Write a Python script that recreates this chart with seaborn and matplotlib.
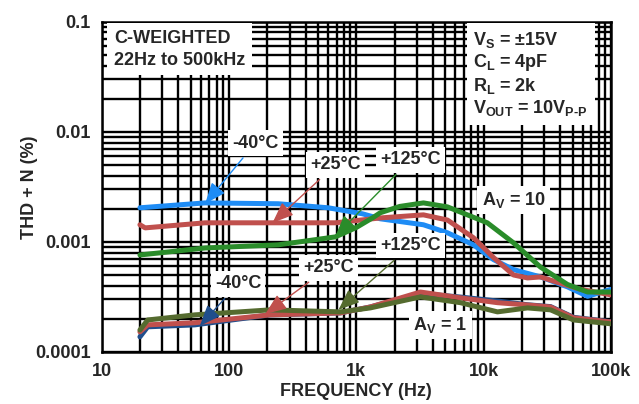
import numpy as np
import pandas as pd
import matplotlib
matplotlib.use("Agg")
import matplotlib.pyplot as plt
import seaborn as sb

# --------------- THD+N vs frequency --------------- #
# values

# Av = 10
f_m40_10 = [20, 65, 244, 604, 1117, 1546, 3370, 5200, 8330, 11970, 17180, 28000, 45600, 65600, 100000]
thd_m40_10 = [0.00204, 0.00226, 0.00222, 0.00204, 0.0018, 0.00162, 0.00143, 0.00121, 0.00094,
              0.00069, 0.00056, 0.00048, 0.00039, 0.00032, 0.00037]

f_p25_10 = [20, 22, 65, 244, 686, 1546, 3370, 5200, 8330, 11970, 17180, 22130, 28000, 40200, 57800, 100000]
thd_p25_10 = [0.00143, 0.00134, 0.00149, 0.00149, 0.00149, 0.00165, 0.00176, 0.00158, 0.00109,
              0.00072, 0.0005, 0.00047, 0.00048, 0.00042, 0.00037, 0.00033]

f_p125_10 = [20, 65, 244, 686, 1000, 1340, 1546, 2200, 3370, 5200, 10700, 17180, 28000, 45600, 65600, 100000]
thd_p125_10 = [0.00076, 0.00088, 0.00094, 0.00111, 0.00135, 0.00165, 0.00184, 0.0021, 0.00226,
               0.00208, 0.00149, 0.00098, 0.00059, 0.00041, 0.00035, 0.00035]

# Av = 1
f_av1 = [20, 23, 54, 211, 750, 1290, 3190, 6580, 12860, 22130, 33600, 50900, 100000]
thd_m40_1 = [0.000137, 0.000169, 0.000176, 0.000217, 0.000226, 0.000256, 0.00034, 0.000315,
             0.00029, 0.000268, 0.000258, 0.000206, 0.000188]
thd_p25_1 = [0.000152, 0.000176, 0.000184, 0.000217, 0.000226, 0.000256, 0.00035, 0.00031,
             0.00028, 0.000267, 0.000256, 0.000204, 0.000187]
thd_p125_1 = [0.000158, 0.000195, 0.000217, 0.000241, 0.000231, 0.000251, 0.000316, 0.00028,
              0.000231, 0.000251, 0.000241, 0.000195, 0.00018]

x_ticks = [10, 100, 1000, 10000, 100000]
x_labels = ["10", "100", "1k", "10k", "100k"]
y_ticks = [0.0001, 0.001, 0.01, 0.1]
y_labels = ["0.0001", "0.001", "0.01", "0.1"]

c_blue, c_red, c_green = "#1e8cf5", "#c0504d", "#2a8c2a"
c_dblue, c_olive = "#1f4e8c", "#556b2f"

sb.set_style("white")
plt.rcParams["font.family"] = ["Liberation Sans", "DejaVu Sans"]
plt.rcParams["font.weight"] = "bold"
plt.rcParams["mathtext.fontset"] = "custom"
plt.rcParams["mathtext.bf"] = "Liberation Sans:bold"
plt.rcParams["mathtext.rm"] = "Liberation Sans:bold"
plt.rcParams["mathtext.default"] = "bf"

fig = plt.figure(figsize=(6.39, 4.04), dpi=100)
ax = fig.add_axes([0.159, 0.129, 0.797, 0.817])

curves = [
    (f_av1, thd_m40_1, c_dblue),
    (f_av1, thd_p25_1, c_red),
    (f_av1, thd_p125_1, c_olive),
    (f_m40_10, thd_m40_10, c_blue),
    (f_p25_10, thd_p25_10, c_red),
    (f_p125_10, thd_p125_10, c_green),
]
for fx, fy, col in curves:
    df = pd.DataFrame({"f": fx, "thd": fy})
    sb.lineplot(data=df, x="f", y="thd", color=col, lw=3.6, ax=ax, zorder=5,
                sort=False, estimator=None)

ax.set_xscale("log")
ax.set_yscale("log")
ax.set_xlim(10, 100000)
ax.set_ylim(0.0001, 0.1)
ax.set_xticks(x_ticks)
ax.set_xticklabels(x_labels)
ax.set_yticks(y_ticks)
ax.set_yticklabels(y_labels)
ax.tick_params(which="both", length=0, labelsize=13, pad=8)
ax.grid(which="both", color="black", lw=1.7)
ax.set_axisbelow(True)
for s in ax.spines.values():
    s.set_color("black")
    s.set_linewidth(1.8)
ax.set_xlabel("FREQUENCY (Hz)", fontsize=13, fontweight="bold", labelpad=2)
ax.set_ylabel("THD + N (%)", fontsize=13, fontweight="bold", labelpad=-2)

box = dict(facecolor="white", edgecolor="none", pad=3)
ax.text(0.025, 0.975, "C-WEIGHTED\n22Hz to 500kHz", transform=ax.transAxes, fontsize=13,
        fontweight="bold", va="top", ha="left", linespacing=1.35, zorder=6,
        bbox=dict(facecolor="white", edgecolor="none", pad=5))
ax.text(0.73, 0.975,
        "V$_{S}$ = ±15V\nC$_{L}$ = 4pF\nR$_{L}$ = 2k\nV$_{OUT}$ = 10V$_{\\text{P-P}}$",
        transform=ax.transAxes, fontsize=13, fontweight="bold", va="top", ha="left",
        linespacing=1.15, zorder=6, bbox=dict(facecolor="white", edgecolor="none", pad=5))

# labels with arrows
notes = [
    ("-40°C", (161, 0.0079), (65, 0.00222), c_blue),
    ("+25°C", (686, 0.005), (220, 0.00149), c_red),
    ("+125°C", (2660, 0.00556), (686, 0.00113), c_green),
    ("-40°C", (118, 0.000415), (59, 0.000172), c_dblue),
    ("+25°C", (603, 0.00058), (193, 0.000221), c_red),
    ("+125°C", (2660, 0.00092), (725, 0.000241), c_olive),
]
for txt, xyt, xy, col in notes:
    ax.annotate(txt, xy=xy, xytext=xyt, fontsize=13, fontweight="bold", ha="center",
                va="center", zorder=7, bbox=box,
                arrowprops=dict(arrowstyle="-|>,head_length=1.0,head_width=0.4",
                                color=col, lw=1, shrinkA=2, shrinkB=0))

ax.text(17200, 0.0024, "A$_{V}$ = 10", fontsize=13, fontweight="bold", ha="center",
        va="center", zorder=7, bbox=box)
ax.text(4580, 0.000176, "A$_{V}$ = 1", fontsize=13, fontweight="bold", ha="center",
        va="center", zorder=7, bbox=box)

fig.savefig("out.png", dpi=100)
